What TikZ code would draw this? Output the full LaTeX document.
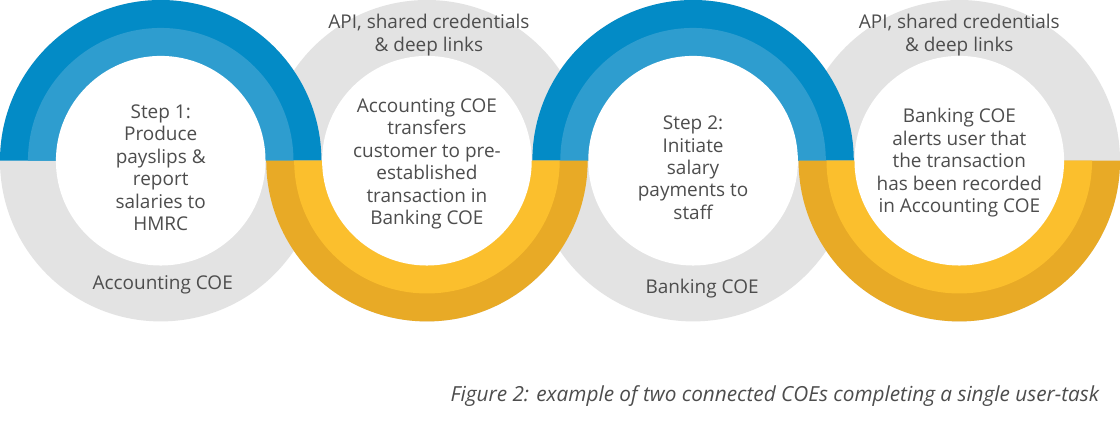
\documentclass[tikz,border=0pt]{standalone}
\usepackage{fontspec}
\setmainfont{Open Sans}
\usepackage{xcolor}
\usepackage{tikz}
\usetikzlibrary{positioning,calc}

\definecolor{dblue}{HTML}{038BC6}
\definecolor{lblue}{HTML}{2E9DCF}
\definecolor{dyellow}{HTML}{E8AA26}
\definecolor{lyellow}{HTML}{FBBF2D}
\definecolor{ringgray}{HTML}{E3E3E3}
\definecolor{txtgray}{HTML}{4D4D4D}

\begin{document}
\begin{tikzpicture}[x=1pt, y=1pt,
    every node/.style={font=\fontsize{19}{22.5}\selectfont, text=txtgray, align=center},
    caption/.style={font=\fontsize{20.8}{24}\selectfont\itshape, anchor=base west}]
    \fill[white] (0,0) rectangle (1120,420);
    \coordinate (r1) at (161,260);
    \coordinate (r2) at (427.7,260);
    \coordinate (r3) at (694.3,260);
    \coordinate (r4) at (961,260);

    \fill[ringgray] (r1) circle[radius=161pt];
    \fill[ringgray] (r2) circle[radius=161pt];
    \fill[ringgray] (r3) circle[radius=161pt];
    \fill[ringgray] (r4) circle[radius=161pt];

    \fill[dblue] (r1) ++(161,0) arc[start angle=0, end angle=180, radius=161pt] -- cycle;
    \fill[lblue] (r1) ++(133,0) arc[start angle=0, end angle=180, radius=133pt] -- cycle;
    \fill[dblue] (r3) ++(161,0) arc[start angle=0, end angle=180, radius=161pt] -- cycle;
    \fill[lblue] (r3) ++(133,0) arc[start angle=0, end angle=180, radius=133pt] -- cycle;

    \fill[dyellow] (r2) ++(161,0) arc[start angle=0, end angle=-180, radius=161pt] -- cycle;
    \fill[lyellow] (r2) ++(133,0) arc[start angle=0, end angle=-180, radius=133pt] -- cycle;
    \fill[dyellow] (r4) ++(161,0) arc[start angle=0, end angle=-180, radius=161pt] -- cycle;
    \fill[lyellow] (r4) ++(133,0) arc[start angle=0, end angle=-180, radius=133pt] -- cycle;

    \fill[white] (r1) circle[radius=105pt];
    \fill[white] (r2) circle[radius=105pt];
    \fill[white] (r3) circle[radius=105pt];
    \fill[white] (r4) circle[radius=105pt];

    \node (step1) at ($(r1)+(0,-7)$) {Step 1:\\Produce\\payslips \&\\report\\salaries to\\HMRC};
    \node (acc) at ($(r1)+(2,-124)$) {Accounting COE};
    \node (api1) at ($(r2)+(2,126)$) {API, shared credentials\\\& deep links};
    \node (trans) at ($(r2)+(0,-3)$) {Accounting COE\\transfers\\customer to pre-\\established\\transaction in\\Banking COE};
    \node (step2) at ($(r3)+(0,-7)$) {Step 2:\\Initiate\\salary\\payments to\\staff};
    \node (bank) at ($(r3)+(9,-128)$) {Banking COE};
    \node (api2) at ($(r4)+(0,126)$) {API, shared credentials\\\& deep links};
    \node (alert) at ($(r4)+(0,-2)$) {Banking COE\\alerts user that\\the transaction\\has been recorded\\in Accounting COE};

    \node[caption] (cap) at (448,19) {Figure 2: example of two connected COEs completing a single user-task};
\end{tikzpicture}
\end{document}
